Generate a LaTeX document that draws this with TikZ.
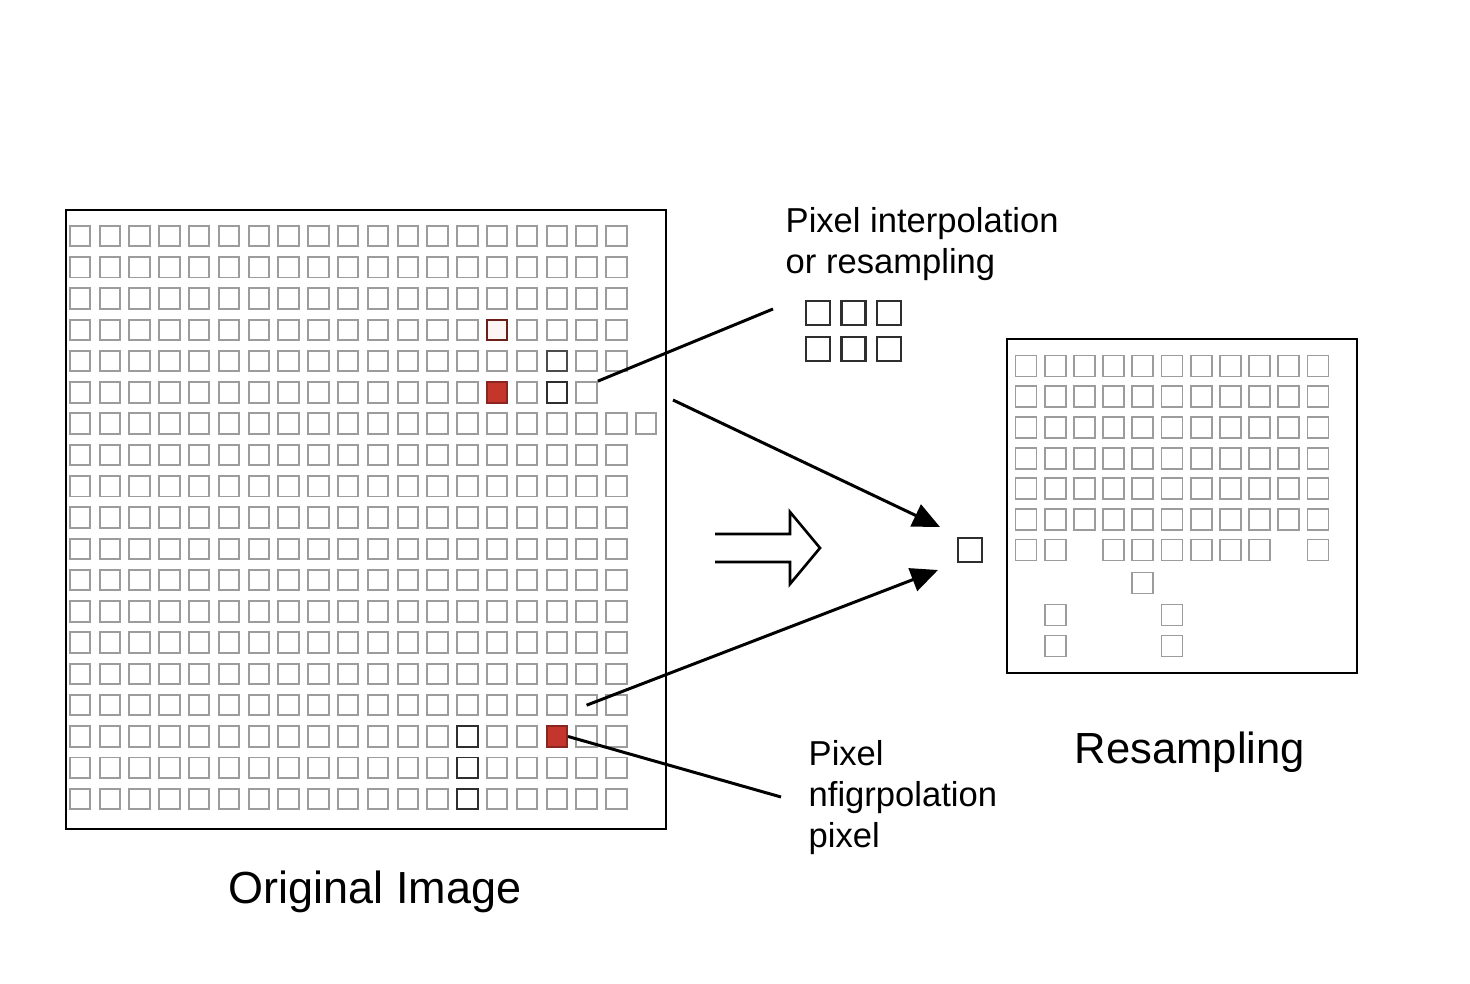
\documentclass[tikz,border=0pt]{standalone}
\usepackage{fontspec}
\setmainfont{Liberation Sans}
\usetikzlibrary{arrows.meta,positioning}
\definecolor{pixgray}{HTML}{9C9C9C}
\definecolor{pixdark}{HTML}{2E2E2E}
\definecolor{pixred}{HTML}{C4362C}

\begin{document}
\begin{tikzpicture}[
    x=0.1mm, y=-0.1mm,
    pix/.style={draw=pixgray, line width=0.55pt, minimum size=2.05mm, inner sep=0pt, fill=white},
    bigpix/.style={pix, draw=pixdark, line width=0.6pt, minimum size=2.4mm},
    darkpix/.style={pix, draw=pixdark},
    midpix/.style={pix, draw=gray!60!black},
    redpix/.style={pix, draw=pixred!70!black, fill=pixred},
    tintpix/.style={pix, draw=pixred!55!black, fill=pixred!5},
    frame/.style={draw, line width=0.7pt},
    lead/.style={line width=0.85pt},
    pointer/.style={-{Triangle[length=2.7mm,width=2.4mm]}, line width=0.85pt},
    label/.style={font=\fontsize{9.84}{11.67}\selectfont, align=left, inner sep=0pt, anchor=north west},
    caption/.style={font=\fontsize{12.8}{15}\selectfont, inner sep=0pt}
]
    \useasboundingbox (0,0) rectangle (1470,984);

    % Original image
    \draw[frame] (66,210) rectangle (666,829);
    \foreach \r in {0,...,18} {
        \pgfmathtruncatemacro{\lastc}{\r==5 ? 17 : (\r==6 ? 19 : 18)}
        \foreach \c in {0,...,\lastc}
            \node[pix] (p-\r-\c) at ({80+29.8*\c},{236+31.28*\r}) {};
    }

    % Highlighted pixels
    \node[tintpix] at (p-3-14) {};
    \node[midpix] at (p-4-16) {};
    \foreach \r/\c in {5/16, 16/13, 17/13, 18/13}
        \node[darkpix] at (p-\r-\c) {};
    \foreach \r/\c in {5/14, 16/16}
        \node[redpix] at (p-\r-\c) {};

    % Interpolation kernel
    \foreach \r in {0,1}
        \foreach \c in {0,1,2}
            \node[bigpix] (m-\r-\c) at ({818+35.5*\c},{313+36*\r}) {};

    % Resampled image
    \draw[frame, line width=0.8pt] (1007,339) rectangle (1357,673);
    \foreach \r in {0,...,5}
        \foreach \c in {0,...,10}
            \node[pix, minimum size=2.1mm] (q-\r-\c) at ({1026+29.2*\c},{366+30.7*\r}) {};
    \foreach \c in {0,1,3,4,5,6,7,8,10}
        \node[pix, minimum size=2.1mm] (q-6-\c) at ({1026+29.2*\c},550) {};
    \node[pix, minimum size=2.1mm] (q-7-4) at (1142.8,583) {};
    \foreach \c in {1,5}
        \foreach \r/\y in {8/615, 9/646}
            \node[pix, minimum size=2.1mm] (q-\r-\c) at ({1026+29.2*\c},\y) {};

    % Target pixel
    \node[bigpix] (target) at (970,550) {};

    % Hollow arrow
    \draw[line width=0.75pt, line join=miter]
        (715,534) -- (790,534) -- (790,512) -- (820,548) -- (790,584) -- (790,562) -- (715,562);

    % Leader lines and pointers
    \coordinate (lead-top) at (773,309);
    \coordinate (lead-bot) at (781,797);
    \coordinate (from-top) at (673,400);
    \coordinate (tip-top) at (940,527);
    \coordinate (tip-bot) at (938,570);
    \draw[lead] (p-5-17.north east) -- (lead-top);
    \draw[lead] (p-16-16.east) -- (lead-bot);
    \draw[pointer] (from-top) -- (tip-top);
    \draw[pointer] (p-15-17.center) -- (tip-bot);

    % Labels
    \node[label] (interp) at (785,207) {Pixel interpolation\\or resampling};
    \node[label] (npix) at (808,740) {Pixel\\nfigrpolation\\pixel};
    \node[caption] (orig) at (375,892) {Original Image};
    \node[caption, font=\fontsize{12.4}{15}\selectfont] (resamp) at (1190,752) {Resampling};
\end{tikzpicture}
\end{document}
